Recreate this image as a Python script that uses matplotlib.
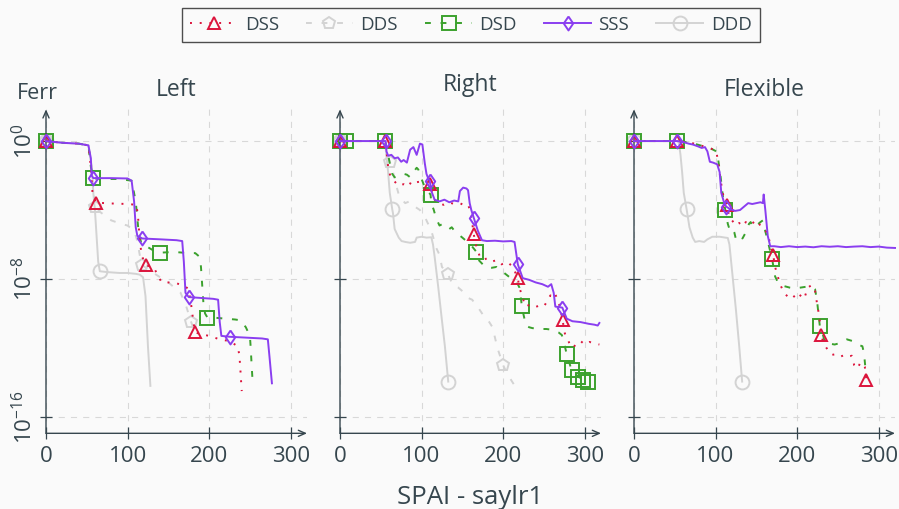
import numpy as np
import matplotlib
matplotlib.use('Agg')
from matplotlib import pyplot as plt
from matplotlib.ticker import NullLocator

# values: x position and log10(Ferr)
# ---------------- Left ----------------
left_dss_x = [0, 20, 40, 52, 55, 57, 61, 80, 100, 111, 113, 115, 117, 120, 123, 128, 133, 137, 142, 150,
              160, 170, 175, 178, 181, 183, 190, 200, 213, 225, 235, 237, 238, 239, 240]
left_dss_e = [0, -0.1, -0.15, -0.25, -1.5, -3.0, -3.57, -3.62, -3.65, -3.7, -4.5, -5.8, -6.5, -7.0, -7.19, -7.3,
              -7.4, -7.8, -8.2, -8.2, -8.25, -8.4, -8.6, -9.5, -10.6, -11.1, -11.2, -11.3, -11.5, -11.6, -11.9,
              -12.4, -13.0, -13.8, -14.5]
left_dss_mk = [0, 61, 123, 183]

left_dds_x = [0, 20, 40, 52, 56, 60, 66, 80, 92, 100, 108, 112, 116, 118, 130, 150, 165, 172, 178, 182]
left_dds_e = [0, -0.1, -0.15, -0.25, -1.5, -3.8, -4.1, -4.6, -4.8, -4.9, -5.2, -5.8, -6.9, -7.2, -7.6, -8.2,
              -8.8, -9.6, -10.5, -11.0]
left_dds_mk = [0, 60, 118, 178]

left_dsd_x = [0, 20, 40, 52, 55, 58, 70, 90, 105, 110, 113, 117, 123, 130, 140, 150, 162, 175, 183, 188,
              190, 191, 193, 195, 198, 208, 220, 232, 239, 245, 250, 251, 252, 253]
left_dsd_e = [0, -0.1, -0.15, -0.25, -1.5, -2.16, -2.2, -2.2, -2.3, -3.5, -5.0, -6.0, -6.1, -6.3, -6.47, -6.45,
              -6.45, -6.5, -6.5, -6.7, -7.3, -8.0, -9.4, -10.0, -10.24, -10.25, -10.3, -10.35, -10.4, -10.8,
              -11.3, -12.0, -12.9, -13.7]
left_dsd_mk = [0, 58, 140, 198]

left_sss_x = [0, 20, 40, 52, 55, 56, 58, 80, 100, 105, 108, 110, 112, 118, 140, 160, 167, 169, 171, 175,
              190, 205, 211, 213, 215, 225, 245, 265, 272, 274, 277]
left_sss_e = [0, -0.1, -0.15, -0.25, -1.0, -2.0, -2.15, -2.15, -2.17, -2.3, -3.5, -5.0, -5.5, -5.65, -5.7,
              -5.75, -5.8, -7.0, -8.8, -9.05, -9.1, -9.15, -9.2, -10.5, -11.3, -11.35, -11.4, -11.45, -11.5,
              -12.5, -14.05]
left_sss_mk = [0, 58, 118, 175, 225]

left_ddd_x = [0, 20, 40, 52, 56, 58, 60, 62, 64, 66, 75, 90, 100, 110, 115, 119, 122, 125, 128]
left_ddd_e = [0, -0.1, -0.15, -0.25, -1.5, -3.0, -4.0, -5.5, -7.0, -7.55, -7.6, -7.65, -7.65, -7.7, -7.75,
              -7.9, -9.0, -11.9, -14.2]
left_ddd_mk = [0, 66]

# ---------------- Right ----------------
right_dss_x = [0, 20, 40, 55, 57, 59, 62, 66, 72, 78, 84, 88, 93, 98, 102, 106, 110, 113, 117, 122,
               127, 133, 140, 147, 153, 157, 159, 161, 164, 166, 169, 172, 176, 180, 186, 192, 198, 205, 212, 218,
               220, 222, 224, 226, 228, 232, 238, 244, 250, 255, 258, 261, 264, 268, 273, 275, 277, 279, 282, 286,
               290, 295, 300, 306, 312, 318]
right_dss_e = [0, 0, 0, 0, -0.6, -1.5, -2.1, -2.3, -2.6, -2.5, -2.65, -2.3, -2.4, -2.35, -2.45, -2.5, -2.5, -3.0,
               -3.5, -3.6, -3.7, -3.55, -3.65, -3.6, -3.75, -3.7, -3.95, -4.4, -5.4, -5.9, -6.4, -6.75, -6.9, -6.8,
               -7.0, -6.9, -7.15, -7.0, -7.3, -7.96, -8.5, -8.8, -9.0, -9.5, -9.6, -9.5, -9.65, -9.55, -9.6, -9.2,
               -8.95, -9.1, -8.9, -9.3, -10.38, -11.05, -11.35, -11.5, -11.8, -12.0, -11.7, -11.6, -11.8, -11.65,
               -11.75, -11.8]
right_dss_mk = [0, 55, 110, 164, 218, 273]

right_dds_x = [0, 20, 40, 55, 58, 61, 64, 68, 72, 76, 80, 85, 90, 98, 105, 112, 118, 122, 125, 132,
               139, 145, 150, 157, 162, 170, 177, 183, 187, 193, 200, 205, 209, 213]
right_dds_e = [0, 0, 0, 0, -0.8, -1.2, -1.6, -2.4, -3.1, -3.4, -3.6, -3.5, -3.75, -4.0, -4.5, -5.2, -6.2, -6.6,
               -7.3, -7.7, -8.4, -8.5, -8.7, -9.1, -9.2, -9.7, -10.2, -10.5, -10.8, -12.0, -13.0, -13.5, -13.8, -14.1]
right_dds_mk = [0, 61, 132, 200]

right_dsd_x = [0, 7, 20, 40, 55, 58, 61, 64, 67, 72, 78, 82, 86, 90, 94, 96, 100, 105, 111, 112,
               115, 118, 122, 126, 130, 134, 137, 141, 150, 160, 167, 168, 172, 178, 186, 192, 200, 208, 215, 218,
               220, 223, 224, 228, 232, 236, 245, 253, 261, 268, 272, 274, 278, 284, 292, 298, 304]
right_dsd_e = [0, 0, 0, 0, 0, -0.5, -1.3, -1.9, -2.1, -2.0, -1.9, -1.95, -2.1, -1.8, -1.55, -1.65, -2.2, -2.8,
               -3.1, -3.6, -4.0, -4.5, -4.9, -4.8, -4.95, -5.1, -5.0, -5.25, -5.6, -6.0, -6.41, -6.8, -7.0, -7.3,
               -7.35, -7.3, -7.6, -7.9, -8.2, -8.3, -8.5, -9.57, -9.85, -10.7, -10.8, -10.85, -10.9, -10.9, -10.95,
               -11.1, -11.25, -11.6, -12.35, -13.3, -13.66, -13.86, -13.95]
right_dsd_mk = [0, 7, 55, 111, 167, 223, 278, 284, 292, 298, 304]

right_sss_x = [0, 20, 40, 55, 56, 57, 59, 63, 67, 71, 75, 78, 82, 86, 90, 94, 98, 101, 104, 106,
               108, 110, 112, 116, 122, 128, 134, 140, 145, 147, 151, 155, 157, 159, 161, 164, 169, 174, 180, 190,
               200, 210, 214, 216, 218, 224, 232, 240, 248, 255, 259, 262, 264, 272.6, 278, 285, 295, 305, 312, 316,
               318]
right_sss_e = [0, 0, 0, 0, 0, -0.6, -0.85, -0.8, -1.0, -0.95, -1.2, -1.1, -1.25, -0.5, -0.35, -0.8, -0.15, -0.2,
               -1.3, -1.9, -2.15, -2.3, -2.9, -3.4, -3.5, -3.4, -3.55, -3.45, -3.5, -2.9, -2.7, -2.75, -2.85, -3.6,
               -4.0, -4.45, -5.2, -5.75, -5.8, -5.78, -5.82, -5.8, -5.85, -6.5, -7.15, -7.95, -8.05, -8.2, -8.3,
               -8.45, -8.3, -8.8, -9.6, -9.66, -10.3, -10.45, -10.5, -10.6, -10.65, -10.7, -10.55]
right_sss_mk = [0, 56, 110, 164, 218, 272.6]

right_ddd_x = [0, 20, 40, 55, 57, 59, 61, 64, 65, 67, 69, 72, 75.5, 80, 86, 92, 94, 100, 106, 112,
               114, 116, 120.4, 124.5, 128.6, 132.7]
right_ddd_e = [0, 0, 0, 0, -0.9, -1.8, -3.0, -3.94, -4.2, -5.1, -5.3, -5.6, -5.8, -5.85, -5.9, -5.85, -5.6,
               -5.55, -5.6, -5.58, -6.0, -6.7, -8.45, -10.2, -11.9, -13.95]
right_ddd_mk = [0, 64, 132.7]

# ---------------- Flexible ----------------
flex_dss_x = [0, 20, 40, 53, 70, 85, 95, 101, 104, 107, 110, 113.5, 117, 121, 125, 129, 133, 137, 141, 145,
              149, 153, 157, 161, 164, 167, 170.6, 173, 176, 179, 182, 186, 190, 195, 200, 205, 209, 213, 218, 222,
              225, 227, 229.8, 232, 236, 243, 248, 253, 259, 263, 267, 270, 274, 277, 280, 283, 285]
flex_dss_e = [0, 0, 0, 0, -0.1, -0.3, -0.45, -0.6, -1.5, -2.5, -3.3, -3.7, -4.4, -4.65, -4.9, -4.75, -4.95, -4.7,
              -4.8, -4.65, -4.9, -4.75, -5.1, -5.2, -5.35, -6.0, -6.6, -7.3, -7.8, -8.3, -8.6, -8.9, -9.1, -8.95,
              -9.2, -8.9, -9.1, -8.5, -8.35, -8.7, -9.6, -10.1, -11.25, -11.7, -12.0, -12.4, -12.35, -12.5, -12.4,
              -12.5, -12.45, -13.0, -13.2, -12.9, -12.85, -13.1, -13.86]
flex_dss_mk = [0, 53, 113.5, 170.6, 229.8, 285]

flex_dsd_x = [0, 20, 40, 53, 70, 85, 95, 101, 103, 106, 109, 112, 115, 117, 120, 123, 125, 129, 133, 137,
              141, 143, 146, 150, 155, 158, 160, 163, 166, 169.4, 173, 177, 183, 191, 197, 204, 211, 219, 222, 224.5,
              227.8, 229, 231, 234, 240, 246, 254, 261, 268, 274, 280, 282, 284, 285]
flex_dsd_e = [0, 0, 0, 0, -0.1, -0.3, -0.45, -0.6, -1.0, -2.0, -3.2, -4.0, -4.8, -5.1, -5.0, -5.3, -5.7, -5.5,
              -5.65, -5.3, -4.8, -4.7, -5.0, -4.9, -4.7, -4.6, -5.05, -5.6, -6.2, -6.86, -7.85, -8.25, -8.4, -8.5,
              -8.55, -8.5, -8.45, -8.5, -8.6, -9.3, -10.72, -10.9, -11.1, -11.7, -11.75, -11.8, -11.7, -11.5, -11.6,
              -11.8, -11.9, -12.3, -13.3, -13.7]
flex_dsd_mk = [0, 53, 112, 169.4, 227.8]

flex_sss_x = [0, 20, 40, 53, 60, 67, 72, 78, 83, 87, 90, 93, 97, 102, 105, 107, 110, 113, 118, 124,
              130, 135, 140, 145, 150, 155, 158, 159, 161, 164, 167, 172, 180, 190, 200, 210, 220, 230, 240, 250,
              260, 270, 280, 290, 300, 310, 320]
flex_sss_e = [0, 0, 0, 0, -0.05, -0.15, -0.2, -0.3, -0.4, -0.35, -0.6, -1.2, -1.25, -1.35, -1.8, -3.0, -3.5,
              -3.8, -3.95, -4.05, -4.0, -3.8, -3.6, -3.65, -3.6, -3.55, -3.6, -3.1, -4.0, -5.5, -6.1, -6.1, -6.15,
              -6.1, -6.15, -6.12, -6.16, -6.1, -6.13, -6.1, -6.15, -6.12, -6.1, -6.15, -6.12, -6.18, -6.2]
flex_sss_mk = [0, 53, 113]

flex_ddd_x = [0, 20, 40, 53, 55, 57, 59, 61, 64.5, 66, 68, 70, 72, 75, 80, 86, 90, 96, 105, 112,
              115, 117, 121, 125, 129, 132.6]
flex_ddd_e = [0, 0, 0, 0, -0.1, -0.8, -1.8, -3.0, -3.95, -4.4, -5.0, -5.3, -5.6, -5.85, -5.8, -5.85, -5.7,
              -5.55, -5.55, -5.6, -5.62, -6.0, -7.9, -9.8, -11.9, -13.95]
flex_ddd_mk = [0, 64.5, 132.6]

panel_titles = ['Left', 'Right', 'Flexible']
x_ticks = [0, 100, 200, 300]
y_ticks = [1e0, 1e-8, 1e-16]
y_ticklabels = ['$10^{0}$', '$10^{-8}$', '$10^{-16}$']

panels = [
    {'DSS': (left_dss_x, left_dss_e, left_dss_mk), 'DDS': (left_dds_x, left_dds_e, left_dds_mk),
     'DSD': (left_dsd_x, left_dsd_e, left_dsd_mk), 'SSS': (left_sss_x, left_sss_e, left_sss_mk),
     'DDD': (left_ddd_x, left_ddd_e, left_ddd_mk)},
    {'DSS': (right_dss_x, right_dss_e, right_dss_mk), 'DDS': (right_dds_x, right_dds_e, right_dds_mk),
     'DSD': (right_dsd_x, right_dsd_e, right_dsd_mk), 'SSS': (right_sss_x, right_sss_e, right_sss_mk),
     'DDD': (right_ddd_x, right_ddd_e, right_ddd_mk)},
    {'DSS': (flex_dss_x, flex_dss_e, flex_dss_mk), 'DSD': (flex_dsd_x, flex_dsd_e, flex_dsd_mk),
     'SSS': (flex_sss_x, flex_sss_e, flex_sss_mk), 'DDD': (flex_ddd_x, flex_ddd_e, flex_ddd_mk)},
]

plt.rcParams['font.family'] = ['Open Sans', 'DejaVu Sans']
plt.rcParams['mathtext.fontset'] = 'custom'
plt.rcParams['mathtext.rm'] = 'Open Sans'
plt.rcParams['mathtext.it'] = 'Open Sans:italic'
plt.rcParams['mathtext.bf'] = 'Open Sans:bold'

ink = '#36464e'
bg = '#fafafa'
gray = '#d3d3d3'

# diamond a bit wider than matplotlib's thin diamond
diamond = [(0, 1), (0.68, 0), (0, -1), (-0.68, 0), (0, 1)]

styles = {
    'DSS': dict(color='#dc143c', ls=(0, (1, 4)), marker='^', ms=9, z=4),
    'DDS': dict(color=gray, ls=(0, (3, 5)), marker='p', ms=9, z=2),
    'DSD': dict(color='#3ba12d', ls=(0, (3, 5)), marker='s', ms=10, z=3),
    'SSS': dict(color='#8a3ef0', ls='-', marker=diamond, ms=10, z=5),
    'DDD': dict(color=gray, ls='-', marker='o', ms=10, z=2),
}
order = ['DSS', 'DDS', 'DSD', 'SSS', 'DDD']

fig = plt.figure(figsize=(8.99, 5.09), dpi=100, facecolor=bg)
lefts = [46 / 899, 340 / 899, 634 / 899]
w, bottom, h = 261 / 899, 0.1487, 0.6365

handles = {}
for i, (title, data) in enumerate(zip(panel_titles, panels)):
    ax = fig.add_axes([lefts[i], bottom, w, h], facecolor=bg)
    for name in order:
        if name not in data:
            continue
        xs, es, mk = data[name]
        st = styles[name]
        idx = [xs.index(m) for m in mk]
        ln, = ax.plot(xs, 10.0 ** np.array(es), color=st['color'], ls=st['ls'], lw=1.4,
                      marker=st['marker'], ms=st['ms'], mfc='none', mec=st['color'], mew=1.4,
                      markevery=idx, zorder=st['z'], label=name, clip_on=False)
        handles.setdefault(name, ln)

    ax.set_yscale('log')
    ax.set_xlim(0, 320)
    ax.set_ylim(10 ** -16.95, 10 ** 1.84)
    ax.set_xticks(x_ticks)
    ax.set_yticks(y_ticks)
    ax.yaxis.set_minor_locator(NullLocator())
    ax.grid(True, color='#d8d8d8', lw=0.8, ls=(0, (5.5, 5.5)))
    ax.set_axisbelow(True)
    for s in ax.spines.values():
        s.set_visible(False)
    for tip in [(1.0, 0), (0, 1.0)]:
        ax.annotate('', xy=tip, xytext=(0, 0), xycoords='axes fraction',
                    arrowprops=dict(arrowstyle='->,head_length=0.5,head_width=0.22', color=ink, lw=1.0,
                                    shrinkA=0, shrinkB=0))
    ax.tick_params(axis='x', direction='inout', length=8.5, width=0.9, color=ink,
                   labelcolor=ink, labelsize=16, pad=5)
    ax.tick_params(axis='y', direction='inout', length=8.5, width=0.9, color=ink,
                   labelcolor=ink, labelsize=16, pad=2)
    if i == 0:
        ax.set_yticklabels(y_ticklabels, rotation=90, va='center')
        ax.set_ylabel('Ferr', rotation=0, fontsize=15.5, color=ink, ha='center', va='center')
        ax.yaxis.set_label_coords(-0.034, 1.05)
    else:
        ax.set_yticklabels([])
    ax.set_title(title, fontsize=16.5, color=ink, pad=13 if title == 'Right' else 9.5)

fig.text(0.523, 5 / 509, 'SPAI - saylr1', fontsize=18.5, color=ink, ha='center', va='baseline')

leg = fig.legend([handles[n] for n in order], order, loc='center', bbox_to_anchor=(471 / 899, 1 - 25 / 509),
                 ncol=5, frameon=True, fancybox=False, fontsize=13.5, handlelength=2.5, handletextpad=0.4,
                 columnspacing=1.45, borderpad=0.45, numpoints=1)
leg.get_frame().set_edgecolor('#222222')
leg.get_frame().set_linewidth(1.0)
leg.get_frame().set_facecolor(bg)
for t in leg.get_texts():
    t.set_color(ink)

fig.savefig('out.png', dpi=100, facecolor=bg)
